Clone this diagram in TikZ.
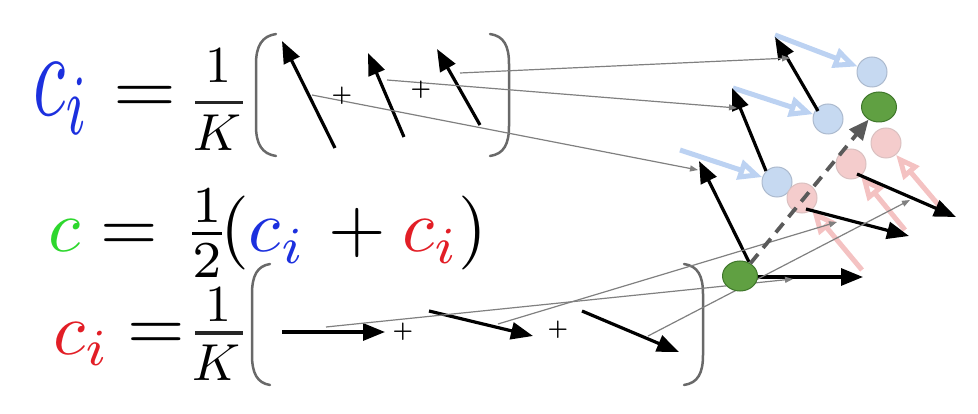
\documentclass[tikz,border=0pt]{standalone}
\usepackage{graphicx}
\usetikzlibrary{arrows.meta,shapes.geometric}
\definecolor{eqblue}{RGB}{28,48,222}
\definecolor{eqred}{RGB}{226,30,38}
\definecolor{eqgreen}{RGB}{45,215,45}
\definecolor{bluefill}{RGB}{198,217,241}
\definecolor{blueborder}{RGB}{172,186,206}
\definecolor{pinkfill}{RGB}{244,204,204}
\definecolor{pinkborder}{RGB}{218,192,192}
\definecolor{greenfill}{RGB}{96,160,66}
\definecolor{greenborder}{RGB}{62,118,42}
\definecolor{arrowblue}{RGB}{188,210,242}
\definecolor{arrowpink}{RGB}{244,194,194}
\definecolor{linegray}{RGB}{128,128,128}
\definecolor{brgray}{RGB}{105,105,105}
\definecolor{dashgray}{RGB}{90,90,90}
\newcommand{\bigmath}[1]{\scalebox{7.4}{#1}}
\newcommand{\midmath}[1]{\scalebox{5.2}{#1}}
\newcommand{\plussign}{\scalebox{2.3}{\bfseries +}}
\begin{document}
\begin{tikzpicture}[x=1pt,y=-1pt,
  blackarrow/.style={line width=3.2pt,-{Triangle[length=22pt,width=17pt]}},
  grayline/.style={draw=linegray,line width=1.2pt,-{Triangle[length=8pt,width=6pt]}},
  bluearrow/.style={draw=arrowblue,line width=5pt,-{Triangle[open,length=24pt,width=20pt]}},
  pinkarrow/.style={draw=arrowpink,line width=5pt,-{Triangle[open,length=24pt,width=20pt]}},
  dashedarrow/.style={draw=dashgray,line width=3.8pt,dash pattern=on 12pt off 8pt,-{Triangle[length=20pt,width=17pt]}},
  bracket/.style={draw=brgray,line width=2.5pt,line cap=round},
  fracbar/.style={draw=black!85,line width=3pt},
  bcirc/.style={circle,draw=blueborder,fill=bluefill,line width=1pt,minimum size=30pt,inner sep=0pt},
  pcirc/.style={circle,draw=pinkborder,fill=pinkfill,line width=1pt,minimum size=30pt,inner sep=0pt},
  gcirc/.style={ellipse,draw=greenborder,fill=greenfill,line width=1pt,minimum width=35pt,minimum height=30pt,inner sep=0pt},
  eqtext/.style={inner sep=0pt},
  plustext/.style={inner sep=0pt}
]
\useasboundingbox (0,0) rectangle (978,414);

% ---------- equations ----------
\node[eqtext,anchor=base west,text=eqblue] (tci) at (33,116) {\scalebox{7.4}[12.2]{$c_i$}};
\node[eqtext,anchor=base] (teq) at (145,114) {\scalebox{8.1}[7.4]{$=$}};
\node[eqtext,anchor=base] (tone) at (218,83) {\midmath{$1$}};
\node[eqtext,anchor=base] (tK) at (217,151) {\midmath{$K$}};
\draw[fracbar] (195,103) -- (243,103);

\node[eqtext,anchor=base west] (mc) at (48,252) {\bigmath{$\textcolor{eqgreen}{c} =$}};
\node[eqtext,anchor=base west] (mfrac) at (183,252) {\bigmath{$\frac{1}{2}$}};
\node[eqtext,anchor=base west] (mpar) at (220,252) {\bigmath{$(\textcolor{eqblue}{c_i}\mskip 1.5mu+\textcolor{eqred}{c_i})$}};

\node[eqtext,anchor=base west,text=eqred] (bci) at (53,354) {\bigmath{$c_i$}};
\node[eqtext,anchor=base] (beq) at (156.5,350) {\bigmath{$=$}};
\node[eqtext,anchor=base] (bone) at (218,322) {\midmath{$1$}};
\node[eqtext,anchor=base] (bK) at (216,380) {\midmath{$K$}};
\draw[fracbar] (195,333) -- (243,333);

% ---------- big brackets ----------
\draw[bracket] (276,34) .. controls (262,36) and (256,46) .. (256,64) -- (256,126) .. controls (256,144) and (262,154) .. (276,156);
\draw[bracket] (490,34) .. controls (504,36) and (509,46) .. (509,64) -- (509,126) .. controls (509,144) and (504,154) .. (490,156);
\draw[bracket] (270,264) .. controls (257,266) and (252,276) .. (252,294) -- (252,355) .. controls (252,373) and (257,383) .. (270,385);
\draw[bracket] (684,264) .. controls (698,266) and (703,276) .. (703,294) -- (703,355) .. controls (703,373) and (698,383) .. (684,385);

% ---------- coordinates ----------
\coordinate (ta1s) at (335,148); \coordinate (ta1e) at (282,41);
\coordinate (ta2s) at (404,137); \coordinate (ta2e) at (368,53);
\coordinate (ta3s) at (480,125); \coordinate (ta3e) at (437,49);
\coordinate (ba1s) at (282,332); \coordinate (ba1e) at (385,332);
\coordinate (ba2s) at (429,311); \coordinate (ba2e) at (533,336);
\coordinate (ba3s) at (582,311); \coordinate (ba3e) at (679,352);

\coordinate (r1s) at (818,111); \coordinate (r1e) at (775,37);
\coordinate (r2s) at (766,171); \coordinate (r2e) at (732,88);
\coordinate (r3s) at (749,262); \coordinate (r3e) at (699,161);
\coordinate (gas) at (755,277); \coordinate (gae) at (863,277);
\coordinate (p1s) at (806,209); \coordinate (p1e) at (909,236);
\coordinate (p2s) at (857,174); \coordinate (p2e) at (956,217);

\coordinate (la0) at (312,95);  \coordinate (la1) at (698,170);
\coordinate (lb0) at (387,80);  \coordinate (lb1) at (737,108);
\coordinate (lc0) at (460,73);  \coordinate (lc1) at (790,58);
\coordinate (ld0) at (326,327); \coordinate (ld1) at (793,279);
\coordinate (le0) at (498,324); \coordinate (le1) at (837,222);
\coordinate (lf0) at (648,336); \coordinate (lf1) at (910,200);

\coordinate (bb1) at (775,35);  \coordinate (bb2) at (733,88);  \coordinate (bb3) at (680,150);
\coordinate (pp3) at (947,215); \coordinate (pp2) at (905,230); \coordinate (pp1) at (862,270);

% ---------- circles ----------
\node[bcirc] (b1) at (872,72) {};
\node[bcirc] (b2) at (828,119) {};
\node[bcirc] (b3) at (777,182) {};
\node[pcirc] (p3) at (886,143) {};
\node[pcirc] (p2) at (851,164) {};
\node[pcirc] (p1) at (802,198) {};
\node[gcirc] (g1) at (879,107) {};

% ---------- light arrows ----------
\draw[bluearrow] (bb1) -- (b1);
\draw[bluearrow] (bb2) -- (b2);
\draw[bluearrow] (bb3) -- (b3);
\draw[pinkarrow] (pp3) -- (p3);
\draw[pinkarrow] (pp2) -- (p2);
\draw[pinkarrow] (pp1) -- (p1);

% ---------- black arrows ----------
\draw[blackarrow] (ta1s) -- (ta1e);
\draw[blackarrow] (ta2s) -- (ta2e);
\draw[blackarrow] (ta3s) -- (ta3e);
\draw[blackarrow] (ba1s) -- (ba1e);
\draw[blackarrow] (ba2s) -- (ba2e);
\draw[blackarrow] (ba3s) -- (ba3e);
\draw[blackarrow] (r1s) -- (r1e);
\draw[blackarrow] (r2s) -- (r2e);
\draw[blackarrow] (r3s) -- (r3e);
\draw[blackarrow] (gas) -- (gae);
\draw[blackarrow] (p1s) -- (p1e);
\draw[blackarrow] (p2s) -- (p2e);

% ---------- thin gray connectors ----------
\draw[grayline] (la0) -- (la1);
\draw[grayline] (lb0) -- (lb1);
\draw[grayline] (lc0) -- (lc1);
\draw[grayline] (ld0) -- (ld1);
\draw[grayline] (le0) -- (le1);
\draw[grayline] (lf0) -- (lf1);

\node[gcirc] (g2) at (740,276) {};

% ---------- dashed arrow ----------
\draw[dashedarrow] (g2) -- (g1);

% ---------- plus signs ----------
\node[plustext] (plus1) at (342,96) {\plussign};
\node[plustext] (plus2) at (421,90) {\plussign};
\node[plustext] (plus3) at (403,332) {\plussign};
\node[plustext] (plus4) at (558,330) {\plussign};
\end{tikzpicture}
\end{document}
